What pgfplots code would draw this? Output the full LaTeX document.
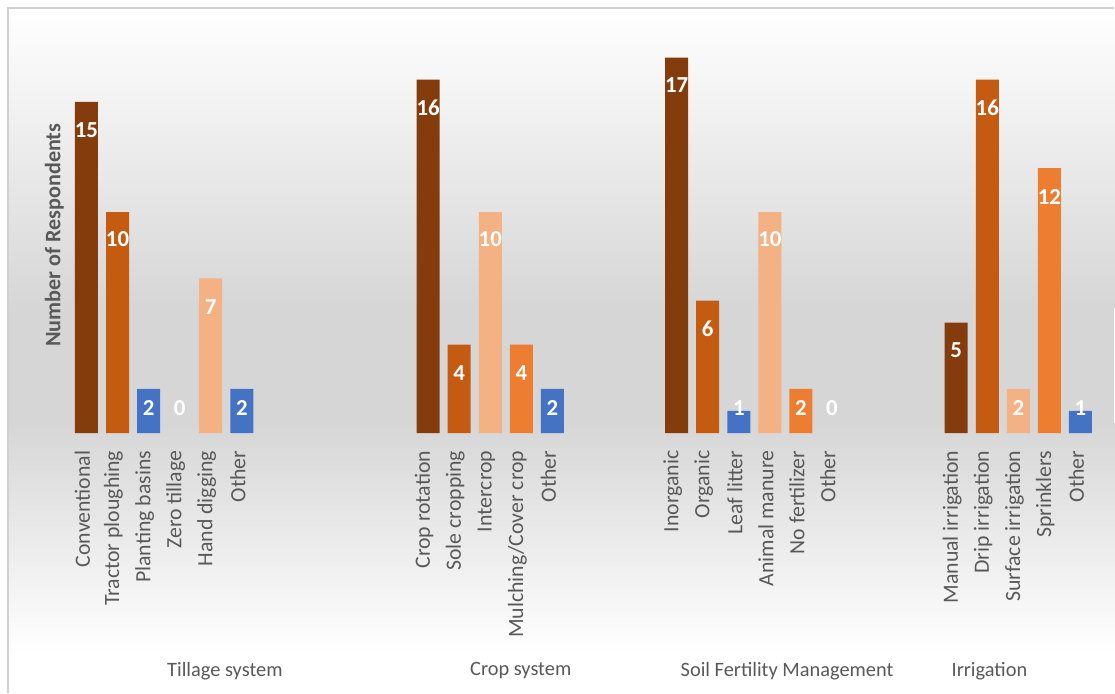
\documentclass[border=0pt]{standalone}
\usepackage{pgfplots}
\pgfplotsset{compat=1.18}
\usepackage{pgfplotstable}
\usepackage{fontspec}
\setmainfont{Carlito}
\definecolor{cDark}{HTML}{843C0C}
\definecolor{cMid}{HTML}{C55A11}
\definecolor{cPeach}{HTML}{F4B183}
\definecolor{cOrange}{HTML}{ED7D31}
\definecolor{cBlue}{HTML}{4472C4}
\definecolor{txt}{HTML}{595959}
\definecolor{bgGray}{HTML}{D6D6D6}
\definecolor{frame}{HTML}{D0D0D0}

\pgfplotstableread{
x ly v
0 13.72 15
1 8.79 10
2 1.13 2
3 1.13 0
4 5.71 7
5 1.13 2
11 14.72 16
12 2.72 4
13 8.79 10
14 2.72 4
15 1.13 2
19 15.76 17
20 4.71 6
21 1.13 1
22 8.79 10
23 1.13 2
24 1.13 0
28 3.76 5
29 14.72 16
30 1.13 2
31 10.69 12
32 1.13 1
}\labeltab

\begin{document}
\begin{tikzpicture}
\useasboundingbox (0,0) rectangle (11.15cm,6.93cm);
\begin{scope}[x=0.01cm,y=0.01cm]
% background gradient
\shade[top color=white, bottom color=bgGray] (8,385) rectangle (1115,685);
\fill[bgGray] (8,270) rectangle (1115,385.5);
\shade[top color=bgGray, bottom color=white] (8,40) rectangle (1115,270.5);
\fill[white] (8,0) rectangle (1115,40.5);
\draw[color=frame, line width=0.02cm] (8,0) -- (8,685) -- (1115,685);
\end{scope}

\begin{axis}[
  at={(0.399cm,2.60cm)}, anchor=south west,
  scale only axis, width=10.685cm, height=4.195cm,
  xmin=-1.5, xmax=32.9, ymin=0, ymax=19,
  axis line style={draw=none},
  ytick=\empty,
  xtick={0,1,2,3,4,5,11,12,13,14,15,19,20,21,22,23,24,28,29,30,31,32},
  xticklabels={Conventional,Tractor ploughing,Planting basins,Zero tillage,Hand digging,Other,
    Crop rotation,Sole cropping,Intercrop,Mulching/Cover crop,Other,
    Inorganic,Organic,Leaf litter,Animal manure,No fertilizer,Other,
    Manual irrigation,Drip irrigation,Surface irrigation,Sprinklers,Other},
  major tick length=0pt,
  xticklabel style={xshift=-0.04cm, rotate=90, anchor=east, inner sep=0pt, text=txt, font=\fontsize{6.2}{7.4}\selectfont},
  xticklabel shift=0.17cm,
  clip=false,
]
\addplot[ybar, bar width=0.23cm, bar shift=0pt, draw=none, fill=cDark] coordinates {(0,15) (11,16) (19,17) (28,5)};
\addplot[ybar, bar width=0.23cm, bar shift=0pt, draw=none, fill=cMid] coordinates {(1,10) (12,4) (20,6) (29,16)};
\addplot[ybar, bar width=0.23cm, bar shift=0pt, draw=none, fill=cBlue] coordinates {(2,2) (5,2) (15,2) (21,1) (32,1)};
\addplot[ybar, bar width=0.23cm, bar shift=0pt, draw=none, fill=cPeach] coordinates {(4,7) (13,10) (22,10) (30,2)};
\addplot[ybar, bar width=0.23cm, bar shift=0pt, draw=none, fill=cOrange] coordinates {(14,4) (23,2) (31,12)};
\addplot[only marks, mark=none,
  point meta=explicit symbolic,
  nodes near coords,
  every node near coord/.style={anchor=center, text=white, inner sep=0pt, font=\fontsize{6.5}{7.5}\selectfont\bfseries}]
  table[x=x, y=ly, meta=v] {\labeltab};
\end{axis}

\begin{scope}[x=0.01cm,y=0.01cm]
\node[rotate=90, text=txt, font=\fontsize{6.3}{7.5}\selectfont\bfseries] at (54.5,458) {Number of Respondents};
\node[text=txt, font=\fontsize{5.8}{7}\selectfont] at (225,22) {Tillage system};
\node[text=txt, font=\fontsize{5.8}{7}\selectfont] at (521,22) {Crop system};
\node[text=txt, font=\fontsize{5.8}{7}\selectfont] at (787.5,22) {Soil Fertility Management};
\node[text=txt, font=\fontsize{5.8}{7}\selectfont] at (990,22) {Irrigation};
\end{scope}
\end{tikzpicture}
\end{document}
